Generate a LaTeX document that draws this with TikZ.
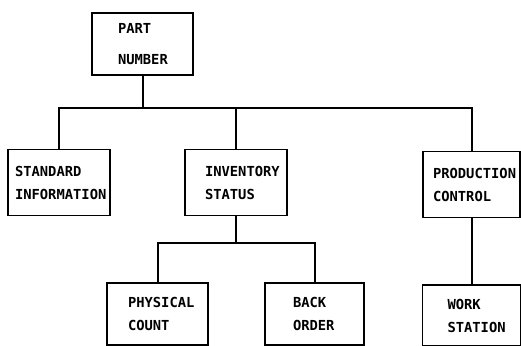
\documentclass[tikz,border=0pt]{standalone}
\usepackage{fontspec}
\newfontfamily\boxfont{DejaVu Sans Mono}
\usepackage{tikz}
\usetikzlibrary{positioning, calc}

\begin{document}
\begin{tikzpicture}[
  x=1pt, y=1pt,
  box/.style={rectangle, draw, line width=1.8pt, minimum height=62pt, inner sep=0pt, align=left,
    font=\boxfont\bfseries\fontsize{13.8}{23}\selectfont},
  inset/.style={execute at begin node={\leftskip=#1pt}},
  link/.style={line width=2pt}
]
  \useasboundingbox (0,0) rectangle (521,345);
  % top level
  \node[box, text width=101pt, inset=26, font=\boxfont\bfseries\fontsize{13.8}{31}\selectfont] (part) at (142.5,301) {PART\\NUMBER};
  % second level
  \node[box, text width=102pt, minimum height=66pt, inset=7] (std) at (59,162.5) {STANDARD\\INFORMATION};
  \node[box, text width=102pt, minimum height=66pt, inset=20] (inv) at (236,162.5) {INVENTORY\\STATUS};
  \node[box, text width=97pt, minimum height=66pt, inset=10] (prod) at (471.5,160.5) {PRODUCTION\\CONTROL};
  % third level
  \node[box, text width=101pt, inset=21] (phys) at (157.5,31) {PHYSICAL\\COUNT};
  \node[box, text width=99pt, inset=28] (back) at (314.5,31) {BACK\\ORDER};
  \node[box, text width=98pt, minimum height=61pt, inset=25] (work) at (471.5,29.5) {WORK\\STATION};
  \coordinate (bus1) at (part.south |- 0,237);
  \coordinate (bus2) at (inv.south |- 0,102);
  \draw[link] (part.south) -- (bus1);
  \draw[link] (std.north) |- (prod.north |- bus1) -- (prod.north);
  \draw[link] (inv.north) -- (inv.north |- bus1);
  \draw[link] (inv.south) -- (bus2);
  \draw[link] (phys.north) |- (back.north |- bus2) -- (back.north);
  \draw[link] (prod.south) -- (work.north);
\end{tikzpicture}
\end{document}
